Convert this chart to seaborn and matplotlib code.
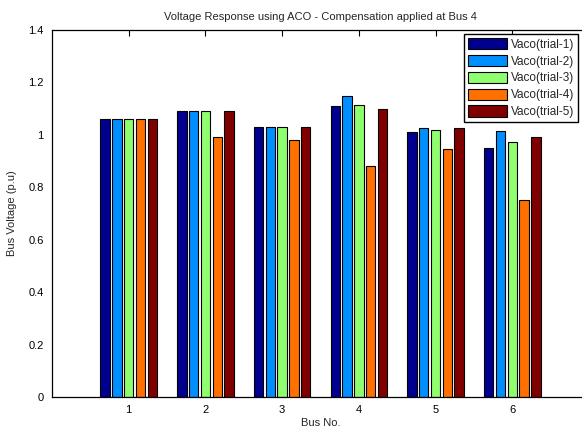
import numpy as np
import pandas as pd
import seaborn as sns
import matplotlib.pyplot as plt

buses = [1, 2, 3, 4, 5, 6]
trial_1 = [1.06, 1.09, 1.03, 1.11, 1.01, 0.95]
trial_2 = [1.06, 1.09, 1.03, 1.15, 1.028, 1.013]
trial_3 = [1.06, 1.09, 1.03, 1.115, 1.017, 0.972]
trial_4 = [1.06, 0.993, 0.982, 0.881, 0.945, 0.753]
trial_5 = [1.06, 1.09, 1.03, 1.098, 1.025, 0.99]
trial_names = ["Vaco(trial-1)", "Vaco(trial-2)", "Vaco(trial-3)",
               "Vaco(trial-4)", "Vaco(trial-5)"]
colors = ["#00008F", "#008FFF", "#8FFF70", "#FF7000", "#800000"]
ytick_vals = [0, 0.2, 0.4, 0.6, 0.8, 1.0, 1.2, 1.4]
ytick_labels = ["0", "0.2", "0.4", "0.6", "0.8", "1", "1.2", "1.4"]

# long format for seaborn
series = [trial_1, trial_2, trial_3, trial_4, trial_5]
df = pd.DataFrame({
    "bus": np.tile(buses, len(series)),
    "voltage": np.concatenate(series),
    "trial": np.repeat(trial_names, len(buses)),
})

sns.set_style("white")
plt.rcParams["font.family"] = ["Liberation Sans", "DejaVu Sans"]
plt.rcParams["font.size"] = 8

fig = plt.figure(figsize=(5.82, 4.30), dpi=100)
ax = fig.add_axes([52 / 582, 33 / 430, 537 / 582, 367 / 430])

sns.barplot(data=df, x="bus", y="voltage", hue="trial", hue_order=trial_names,
            palette=colors, saturation=1, native_scale=True, width=0.769,
            gap=0.2, edgecolor="black", linewidth=0.8, errorbar=None, ax=ax)

ax.set_xlim(0, 7)
ax.set_ylim(0, 1.4)
ax.set_xticks(buses)
ax.set_xticklabels([str(b) for b in buses])
ax.set_yticks(ytick_vals)
ax.set_yticklabels(ytick_labels)
ax.tick_params(direction="in", length=4, width=0.8, top=True, right=True,
               labelsize=8, colors="black", pad=6)
for s in ax.spines.values():
    s.set_visible(True)
    s.set_color("black")
    s.set_linewidth(0.9)

ax.set_title("Voltage Response using ACO - Compensation applied at Bus 4",
             fontsize=8, pad=7)
ax.set_xlabel("Bus No.", fontsize=8, labelpad=2)
ax.set_ylabel("Bus Voltage (p.u)", fontsize=8, labelpad=8)

handles, labels = ax.get_legend_handles_labels()
ax.legend(handles, labels, loc="upper left",
          bbox_to_anchor=(464 / 582, 396 / 430), bbox_transform=fig.transFigure,
          borderaxespad=0, fancybox=False, edgecolor="black", framealpha=1,
          fontsize=8.5, handlelength=3.3, handleheight=1.1, handletextpad=0.3,
          labelspacing=0.35, borderpad=0.35, title=None)
ax.get_legend().get_frame().set_linewidth(1.0)

fig.savefig("out.png", dpi=100)
